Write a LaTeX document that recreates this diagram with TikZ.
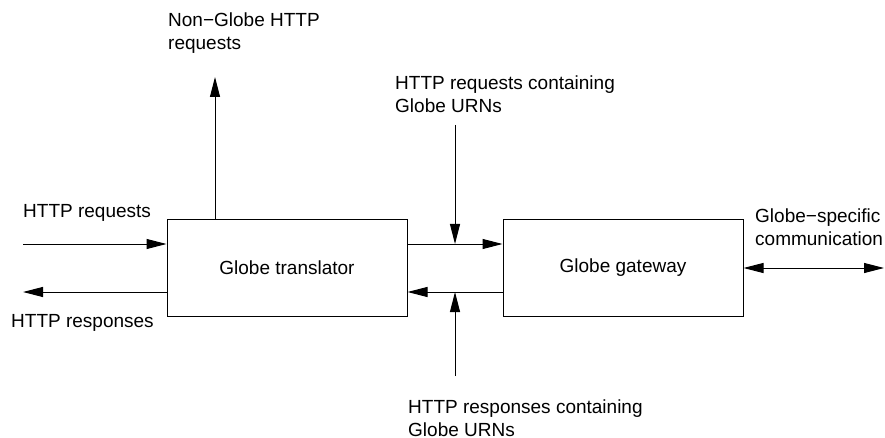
\documentclass[tikz,border=0pt]{standalone}
\usepackage{fontspec}
\setmainfont{Liberation Sans}
\usetikzlibrary{arrows.meta}
\tikzset{
  box/.style={draw,line width=1pt,minimum width=240pt,minimum height=96pt,inner sep=0pt},
  lbl/.style={inner sep=0pt,anchor=west,align=left},
  arr/.style={line width=1pt,-{Triangle[length=20pt,width=10pt]}},
  biarr/.style={line width=1pt,{Triangle[length=20pt,width=10pt]}-{Triangle[length=20pt,width=10pt]}}
}
\begin{document}
\begin{tikzpicture}[x=1pt,y=-1pt,font=\fontsize{19}{23}\selectfont]
                \useasboundingbox (0,0) rectangle (885,438);
                \node[box] (trans) at (287,268) {Globe translator};
                \node[box] (gate) at (623,268) {Globe gateway};
                \coordinate (reqin) at (23,244);
                \coordinate (respout) at (23,292);
                \coordinate (nonglobe) at (215,77);
                \coordinate (urnreq) at (455,125);
                \coordinate (urnresp) at (455,376);
                \coordinate (comm) at (884,268);
                \node[lbl] (reqlbl) at (23,213) {HTTP requests};
                \node[lbl] (resplbl) at (11,323) {HTTP responses};
                \node[lbl] (nglbl) at (168,33) {Non−Globe HTTP\\requests};
                \node[lbl] (urnreqlbl) at (395,94) {HTTP requests containing\\Globe URNs};
                \node[lbl] (urnresplbl) at (408,418) {HTTP responses containing\\Globe URNs};
                \node[lbl] (commlbl) at (755,227) {Globe−specific\\communication};
                \draw[arr] (reqin) -- (reqin -| trans.west);
                \draw[arr] (respout -| trans.west) -- (respout);
                \draw[arr] (nonglobe |- trans.north) -- (nonglobe);
                \draw[arr] (reqin -| trans.east) -- (reqin -| gate.west);
                \draw[arr] (respout -| gate.west) -- (respout -| trans.east);
                \draw[arr] (urnreq) -- (urnreq |- reqin);
                \draw[arr] (urnresp) -- (urnresp |- respout);
                \draw[biarr] (gate.east) -- (comm);
            \end{tikzpicture}
\end{document}
